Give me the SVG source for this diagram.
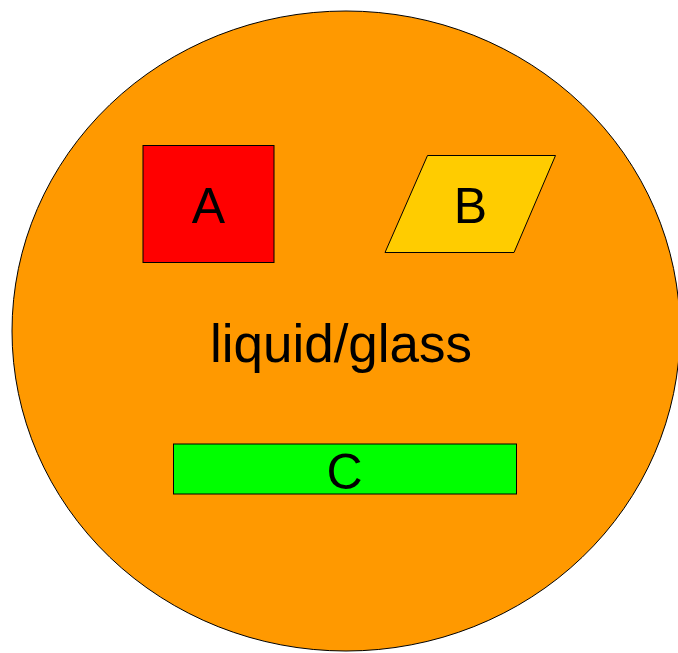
<svg xmlns="http://www.w3.org/2000/svg" width="678" height="653" viewBox="0 0 678 653">
<style>
.s{stroke:#000;stroke-width:1}
.t{font-family:"Liberation Sans",Arial,sans-serif;fill:#000;text-anchor:middle}
</style>
<rect width="678" height="653" fill="#fff"/>
<g id="liquid">
<ellipse class="s" cx="346" cy="331" rx="334" ry="320" fill="#ff9900"/>
<text class="t" x="341" y="362" font-size="53">liquid/glass</text>
</g>
<g id="A">
<rect class="s" x="143" y="145.5" width="131" height="117" fill="#ff0000"/>
<text class="t" x="208.5" y="223" font-size="50">A</text>
</g>
<g id="B">
<polygon class="s" points="427.5,155.5 555.5,155.5 514,252.5 385,252.5" fill="#ffcc00"/>
<text class="t" x="470.5" y="222.5" font-size="50">B</text>
</g>
<g id="C">
<rect class="s" x="173.5" y="444" width="343" height="50" fill="#00ff00"/>
<text class="t" x="344.5" y="489" font-size="50">C</text>
</g>
<g id="connectors"/>
</svg>
